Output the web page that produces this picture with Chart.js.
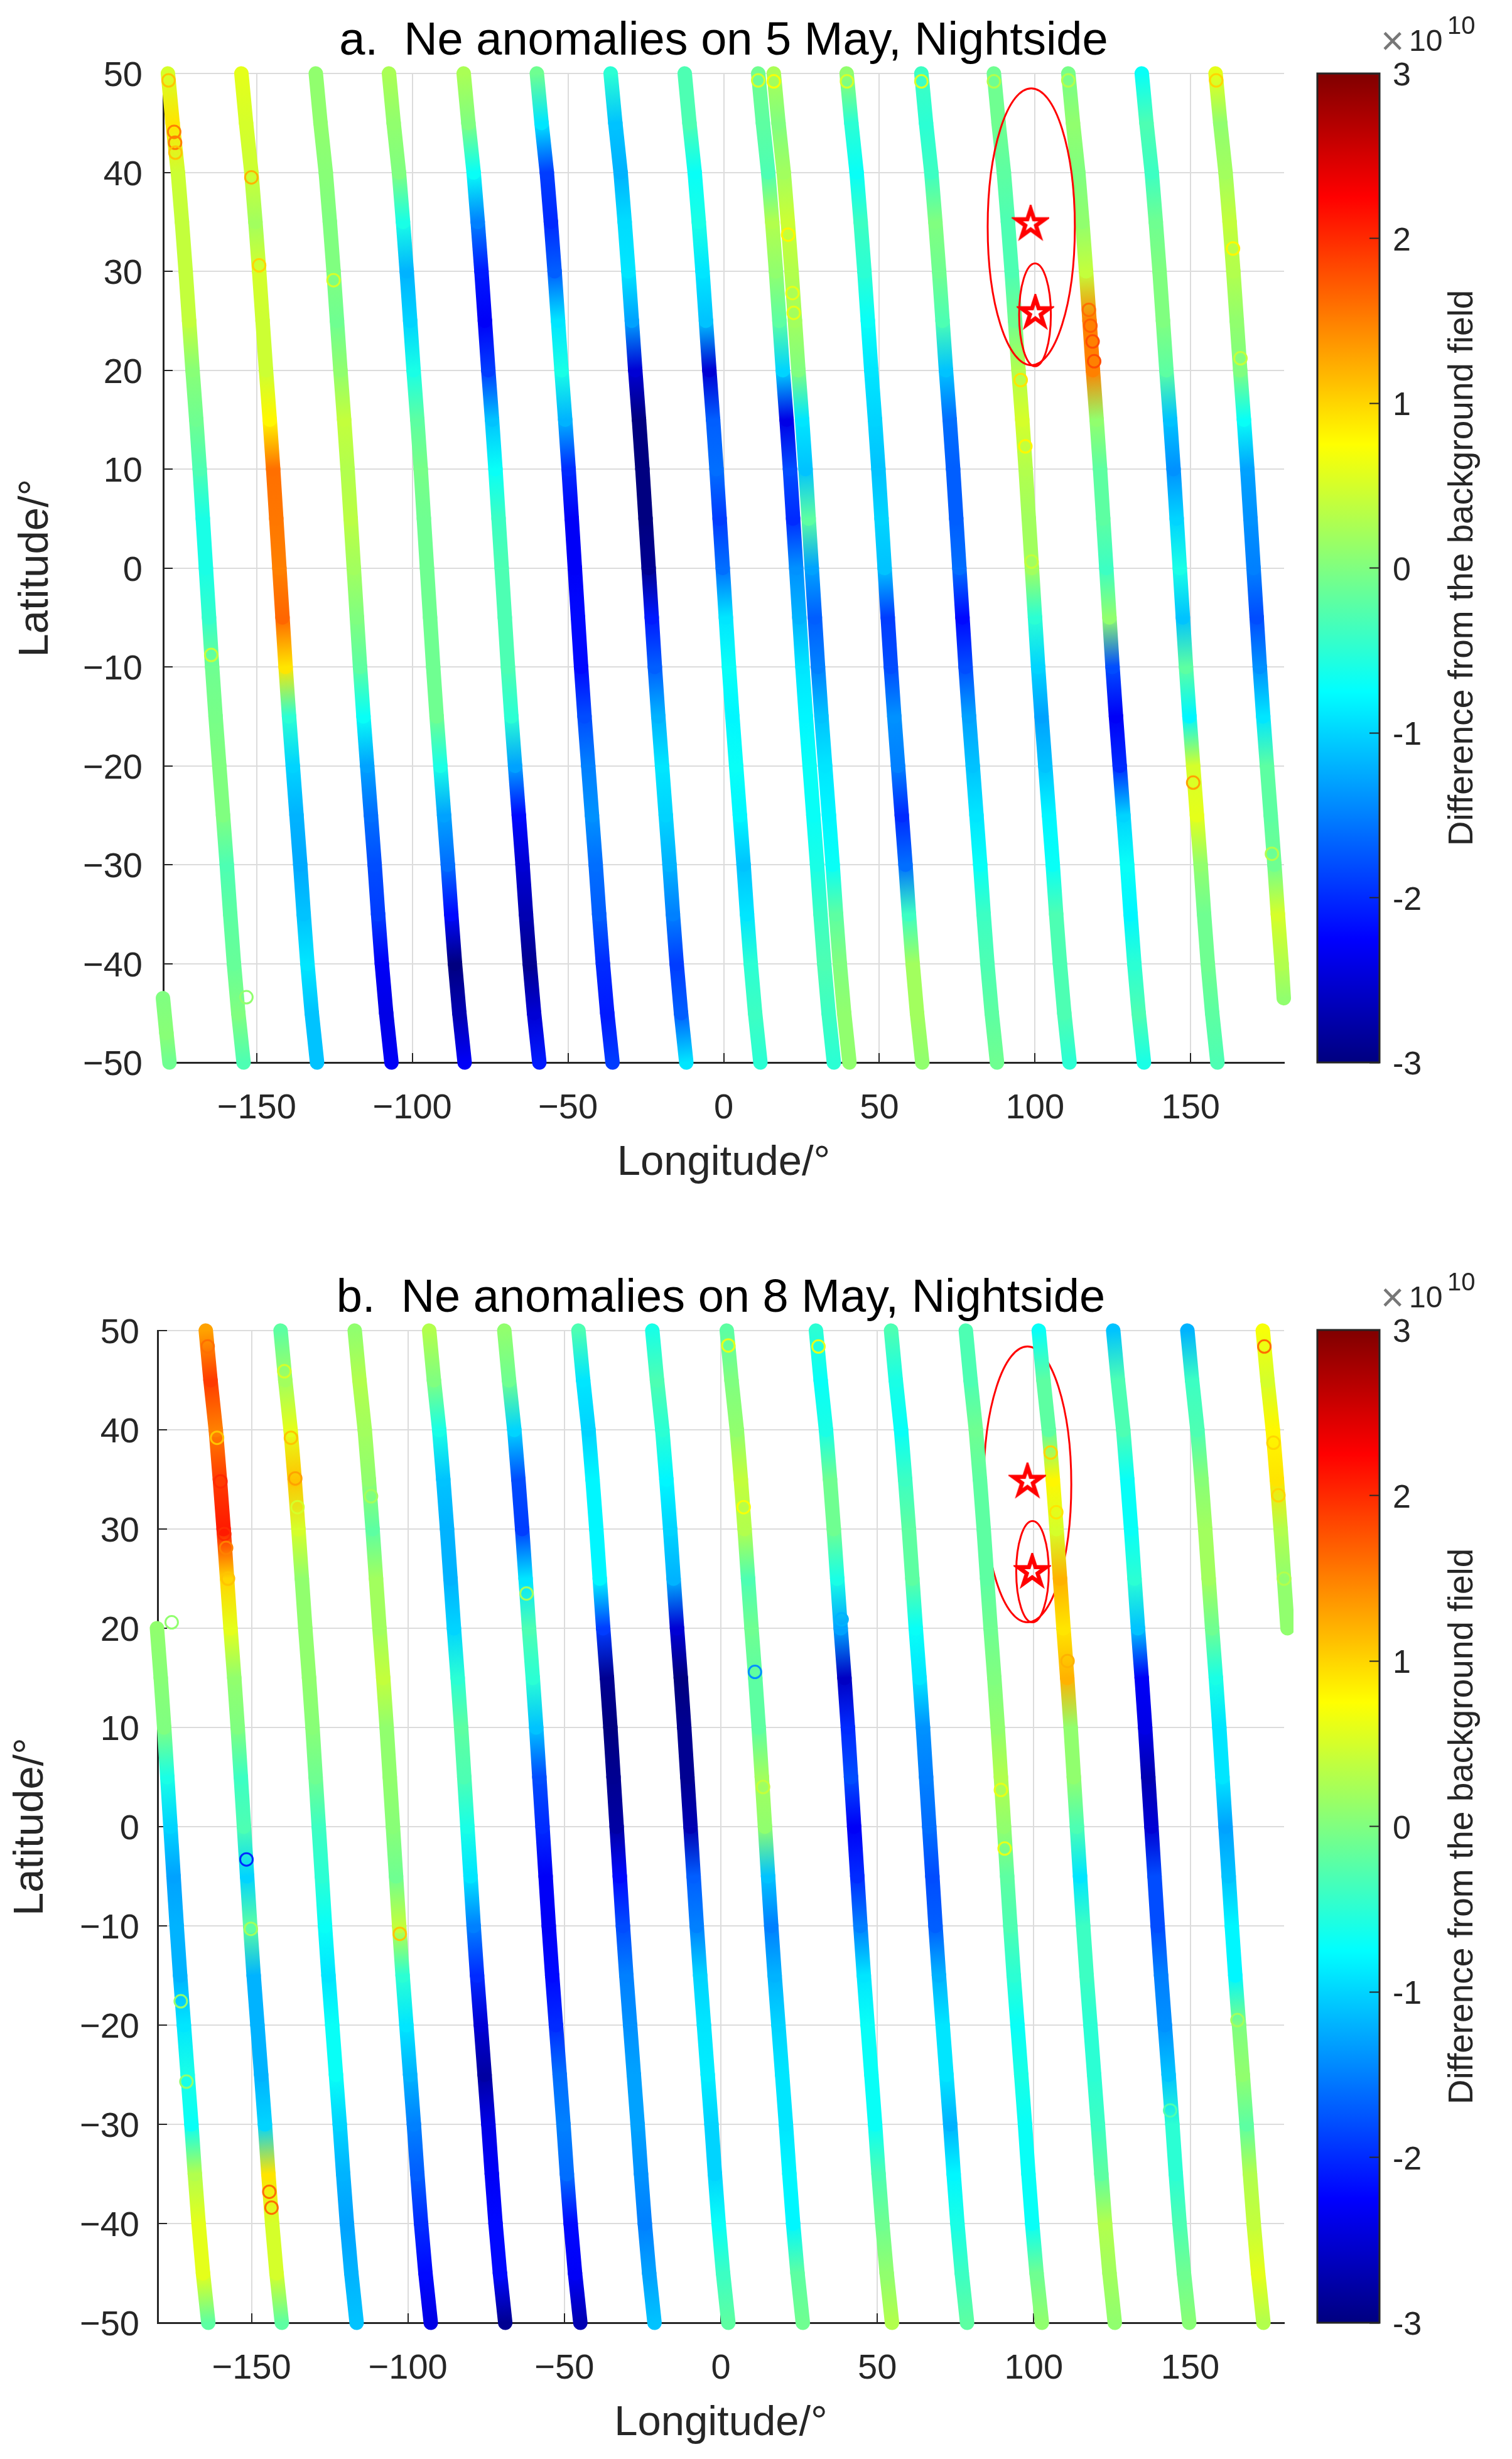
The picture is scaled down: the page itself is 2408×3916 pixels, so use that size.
<!DOCTYPE html>
<html>
<head>
<meta charset="utf-8">
<style>
html,body{margin:0;padding:0;background:#fff;width:2408px;height:3916px;overflow:hidden}
canvas{position:absolute;display:block;filter:blur(0.6px)}
</style>
<script src="https://cdn.jsdelivr.net/npm/chart.js@4/dist/chart.umd.min.js"></script>
</head>
<body>
<canvas id="pa" width="2060" height="2000" style="left:0;top:0"></canvas>
<canvas id="ca" width="348" height="2000" style="left:2060px;top:0"></canvas>
<canvas id="pb" width="2060" height="1916" style="left:0;top:2000px"></canvas>
<canvas id="cb" width="348" height="1916" style="left:2060px;top:2000px"></canvas>
<script>
// ---------- axes ----------
const xTicks = [-150,-100,-50,0,50,100,150];
const yTicks = [-50,-40,-30,-20,-10,0,10,20,30,40,50];
const cbTicks = [-3,-2,-1,0,1,2,3];
const titleA = 'a.  Ne anomalies on 5 May, Nightside';
const titleB = 'b.  Ne anomalies on 8 May, Nightside';
const xLabel = 'Longitude/°';
const yLabel = 'Latitude/°';
const cbLabel = 'Difference from the background field';

// ---------- shared orbit shape read from the tracks ----------
const lats   = [50,45,40,35,30,25,20,15,10,5,0,-5,-10,-15,-20,-25,-30,-35,-40,-45,-50];
const lonOff = [0,1.5,3.2,4.5,5.7,6.8,7.9,9.1,10.2,11.2,12.2,13.2,14.2,15.3,16.5,17.7,18.9,20,21.2,22.6,24.3];

// ---------- panel a: start longitude at 50N, and values (x 1e10) at each latitude ----------
const aStarts = [-178.5,-154.9,-131,-107.5,-83.5,-60,-36.3,-12.5,11.1,16.1,39.5,63.5,86.8,110.7,134.3,158];
const a01 = [.5,.9,.45,.4,.4,.4,.05,-.1,-.3,-.6,-.6,-.45,-.1,-.05,0,0,-.3,-.2,-.15,0,-.3];
const a02 = [.6,.5,.45,.2,.5,.45,.45,.8,1.6,1.55,1.5,1.65,.9,-.5,-1,-1.2,-1.25,-1.1,-.9,-1.1,-1.1];
const a03 = [.1,.1,.05,0,0,-.1,.1,.4,.3,.35,.2,0,-.2,-.7,-1.3,-1.6,-1.8,-1.9,-2.3,-2.4,-2.3];
const a04 = [.25,.1,0,-.6,-1.2,-1,-.6,-.2,-.05,-.1,-.1,-.1,-.1,-.1,-.6,-1.3,-1.6,-2.2,-3,-2.7,-2.3];
const a05 = [.25,0,-.7,-1.5,-2.1,-2.3,-1.9,-1.1,-.7,-.4,-.3,-.3,-.3,-.5,-1.3,-2.2,-2.5,-2.7,-2.9,-2.5,-2.1];
const a06 = [-.1,-.9,-1.9,-2,-1.7,-.9,-.6,-1.2,-2,-2.3,-2.3,-2.2,-2.2,-1.8,-1.5,-1.4,-1.6,-1.7,-2,-2.1,-1.9];
const a07 = [-.5,-1.1,-1.2,-.95,-.9,-1.3,-2.5,-3,-3,-3,-2.9,-2.1,-1.7,-1.2,-.9,-1,-1.2,-1.5,-1.9,-1.7,-.9];
const a08 = [-.3,-.3,-.7,-.6,-.9,-1.1,-2.5,-1.7,-1.6,-1.9,-1.6,-.9,-.7,-.8,-.7,-.8,-1.1,-.9,-.5,-.4,-.5];
const a09 = [-.1,-.2,-.3,.3,.1,-.2,-1,-2.4,-1.8,-2,-1.4,-1.2,-.9,-.8,-.7,-.7,-.6,-.4,-.3,-.4,-.5];
const a10 = [.25,0,.2,.45,.3,.2,0,-.9,-1.1,-.2,-1.3,-1.7,-1.5,-1.1,-.9,-.8,-.7,-.2,0,.1,.1];
const a11 = [.1,-.5,-.7,-.4,-.5,-.7,-.9,-1,-1.1,-1,-1.1,-1.9,-1.8,-1.4,-1.5,-2,-1.6,-.4,.2,.2,.1];
const a12 = [-.4,-.5,-.4,0,-.1,-.3,-1.1,-1.6,-1.7,-1.7,-1.6,-2.2,-1.8,-1.3,-1.1,-.9,-.7,-.4,-.3,-.2,-.1];
const a13 = [-.1,-.1,-.2,-.3,-.3,-.1,.3,.5,.3,.2,.2,-.5,-1,-1.3,-1.1,-.8,-.7,-.3,-.3,-.3,-.5];
const a14 = [-.05,.1,0,.1,.4,1.5,1.5,.1,-.2,-.2,-.4,.1,-1.8,-2.3,-2,-1,-.7,-.8,-.5,-.3,-.6];
const a15 = [-.7,-.3,-.4,-.1,0,0,-.2,-1.1,-1.4,-1,-.6,-1.1,-.2,-.8,.5,.6,.1,-.1,-.1,-.2,-.3];
const a16 = [.6,.1,.2,.4,.3,.1,0,-.7,-1.3,-1.4,-1.5,-1.8,-1.4,-.9,-.2,-.2,-.1,.5,.3];
const aTail = [179.9,-43.5,.1];
const aWrap = [[-180.1,-43.5,0],[-179,-47,.05],[-178,-50,-.1]];
const aRings = [[-178.3,49.3,1.1],[-176.5,44.1,1.5],[-176.2,43,1.5],[-176.1,42,1.1],[-151.7,39.5,1.2],[-149.2,30.6,1],[-125.3,29.1,.5],[-164.6,-8.8,.4],[-153.3,-43.4,.1],[16.1,49.2,.7],[11.1,49.3,.5],[39.6,49.2,.5],[63.5,49.2,.5],[86.8,49.2,.3],[110.7,49.3,.3],[158.2,49.3,1],[20.7,33.7,.8],[22.1,27.8,.6],[22.5,25.8,.6],[117.3,26.1,1.6],[117.8,24.5,1.7],[118.5,22.9,1.8],[119,20.9,1.8],[95.4,19,.9],[96.9,12.3,.8],[98.9,.65,.4],[150.8,-21.7,1.3],[163.6,32.3,.8],[166,21.2,.4],[176.1,-28.9,.3]];
const aStars = [[98.6,34.8],[100.1,25.8]];
const aEllipses = [[98.8,34.5,14,14],[100,25.6,5.1,5.2]];

// ---------- panel b ----------
const bStarts = [-164.6,-140.7,-117,-93.2,-69.2,-45.5,-21.9,1.9,30.4,54.4,78.3,101.6,125.4,149.1,173.2];
const b01 = [1.3,1.9,1.5,1.9,2.1,1,.6,.1,0,-.4,-.3,-1,-.2,-1.2,-1.2,-1.2,-1,.9,.5,.5,-.2];
const b02 = [-.2,.2,.6,1.1,.5,.1,.1,.1,.05,-.1,-.4,-.5,-.7,-.9,-.7,-.7,-1,-1.2,-1.3,-1.2,-1.1];
const b03 = [.1,.3,.2,.1,-.2,.2,.2,.4,.1,.1,.05,-.1,.4,-.5,-.9,-1.2,-1.5,-1.7,-2,-2.2,-2.4];
const b04 = [.3,0,-.6,-1.1,-1.2,-1.2,-1,-.5,-.2,-.3,-.6,-.9,-1.5,-2,-2.5,-2.8,-2.4,-2.3,-2.2,-2.2,-2.9];
const b05 = [.1,-.1,-1,-1.8,-1.9,-.9,-.3,-.5,-1.1,-1.8,-2,-2.3,-2.3,-2.2,-2,-1.6,-1.5,-1.6,-2.2,-2.3,-2.7];
const b06 = [-.3,-.9,-1,-.8,-.8,-.8,-1.9,-2.9,-3,-2.9,-2.8,-2.2,-1.8,-1.5,-1.4,-1.3,-1.3,-1.4,-1.5,-1.3,-1.1];
const b07 = [-.6,-.3,-.5,-.8,-1,-1.2,-2.5,-3,-2.9,-2.9,-2.7,-1.7,-1.5,-1,-.9,-.85,-1,-1,-.7,-.4,-.2];
const b08 = [-.2,0,.1,.4,.3,-.3,-.1,-.2,-.2,.2,.1,-1.1,-1.5,-1.2,-1,-.9,-.9,-.8,-.8,-.2,-.1];
const b09 = [-.5,-.7,-.6,-.1,-.1,-.6,-1.3,-2.6,-2,-1.8,-2.3,-2,-1.5,-.9,-.7,-.7,-.7,-.3,-.1,.1,.3];
const b10 = [-.3,-.6,-.7,-.4,-.2,-.2,-.7,-.9,-1.4,-1.5,-1.6,-1.8,-1.7,-1.2,-.9,-.9,-1.2,-.8,-.6,-.4,-.2];
const b11 = [-.3,-.3,-.1,-.2,-.2,-.2,-.1,0,.1,.3,.1,-.2,-.3,-.5,-.7,-.6,-.7,-.7,-.7,-.1,.1];
const b12 = [-.7,-.2,-.2,.8,.5,1.2,.9,1.2,.1,.1,-.3,-.9,-.4,-.4,-.5,-.5,-.4,-.2,.3,.2,.1];
const b13 = [-1.1,-.3,-.3,-.7,-.7,-.5,-1.1,-2.3,-2.4,-2.7,-2.5,-1.8,-1.8,-1.5,-1.4,-1.1,-.5,-.5,-.3,-.1,.05];
const b14 = [-1.2,-.4,-.3,.05,.2,.2,-.1,-.6,-.9,-.9,-1.3,-1.1,-.8,-.8,0,.1,-.2,.3,.4,.6,.3];
const b15 = [.7,.5,.8,.9,.3,.1,.1];
const bWrapStart = -188.1;
const bWrap = [.1,.05,0,-.6,-1,-1.3,-1.2,-1.2,-.9,-.6,-.7,.3,.6,.6,-.2];
const bRings = [[-164,48.4,1.6],[-161,39.2,1.1],[-159.9,34.8,2],[-158.7,29.5,2],[-158.1,28.1,1.5],[-157.5,25,1.1],[-175.5,20.6,.1],[-139.5,45.9,.5],[-137.4,39.2,1.1],[-136,35.1,1.3],[-135.3,32.2,.5],[-111.8,33.3,.2],[-62.1,23.5,.2],[-151.6,-3.3,-2],[-150.2,-10.3,.2],[-102.6,-10.8,1.1],[-172.6,-17.6,.1],[-170.8,-25.7,.1],[-144.3,-36.8,1.6],[-143.6,-38.4,1.6],[2.4,48.5,.6],[31.2,48.4,.6],[7.3,32.2,.7],[38.6,20.9,-1.2],[10.9,15.6,-1.4],[13.5,4,.4],[89.5,3.7,.6],[90.7,-2.2,.6],[105.4,37.7,1],[107.2,31.7,.9],[110.8,16.7,1.2],[173.7,48.4,1.6],[176.6,38.7,1],[178.2,33.4,1],[180,25,.3],[165.1,-19.5,.2],[143.6,-28.6,-.3]];
const bStars = [[98,34.8],[99.5,25.7]];
const bEllipses = [[98,34.5,14,13.9],[99.6,25.7,5.2,5.1]];

// ---------- colours ----------
const cmapMin = -3, cmapMax = 3;
function jet(v){
  const t = (v-cmapMin)/(cmapMax-cmapMin);
  const c = x => Math.round(255*Math.max(0,Math.min(1,x)));
  return `rgb(${c(Math.min(4*t-1.5,-4*t+4.5))},${c(Math.min(4*t-.5,-4*t+3.5))},${c(Math.min(4*t+.5,-4*t+2.5))})`;
}
const FONT = '"Liberation Sans", Arial, sans-serif';
const INK = '#262626';

function starImage(){
  const R = 23.5, s = 60, cv = document.createElement('canvas');
  cv.width = cv.height = s;
  const g = cv.getContext('2d');
  g.strokeStyle = '#ff0000'; g.lineWidth = 6.5; g.lineJoin = 'miter';
  g.beginPath();
  for(let i=0;i<10;i++){
    const r = i%2 ? R*0.382 : R, a = -Math.PI/2 + i*Math.PI/5;
    const px = s/2 + r*Math.cos(a), py = s/2 + r*Math.sin(a);
    i ? g.lineTo(px,py) : g.moveTo(px,py);
  }
  g.closePath(); g.stroke();
  return cv;
}
const STAR = starImage();

function trackDataset(points){
  // listed south to north so the library keeps the points that run past the axis limit
  const pts = points.slice().reverse();
  const vals = pts.map(p=>p[2]);
  return {
    data: pts.map(p=>({x:p[0],y:p[1]})),
    showLine:true, pointRadius:0, borderWidth:23, borderCapStyle:'round', borderJoinStyle:'round',
    borderColor:jet(vals[0]), clip:false, order:5, tension:0,
    segment:{
      borderColor: c=>{
        const g = c.chart.ctx.createLinearGradient(c.p0.x,c.p0.y,c.p1.x,c.p1.y);
        g.addColorStop(0,jet(vals[c.p0DataIndex]));
        g.addColorStop(1,jet(vals[c.p1DataIndex]));
        return g;
      },
      borderDashOffset: c=>c.p0DataIndex   // forces one styled piece per segment
    }
  };
}
function orbit(start, vals, first){
  first = first||0;
  return vals.map((v,i)=>[start+lonOff[first+i], lats[first+i], v]);
}

function panel(id, o){
  const datasets = [];
  datasets.push({
    data:o.stars.map(s=>({x:s[0],y:s[1]})), showLine:false, pointStyle:STAR, pointRadius:25,
    clip:false, order:0
  });
  datasets.push({
    data:o.rings.map(r=>({x:r[0],y:r[1]})), showLine:false, pointRadius:10, pointBorderWidth:3,
    pointBackgroundColor:'rgba(0,0,0,0)', pointBorderColor:o.rings.map(r=>jet(r[2])), clip:false, order:1
  });
  o.tracks.forEach(t=>datasets.push(trackDataset(t)));
  const ellipses = {
    id:'ellipses',
    [o.ellipseOver ? 'afterDatasetsDraw' : 'beforeDatasetsDraw'](chart){
      const {ctx,scales:{x,y}} = chart;
      ctx.save(); ctx.strokeStyle='#ff0000'; ctx.lineWidth=3;
      o.ellipses.forEach(e=>{
        const cx=x.getPixelForValue(e[0]), cy=y.getPixelForValue(e[1]);
        const rx=Math.abs(x.getPixelForValue(e[0]+e[2])-cx), ry=Math.abs(y.getPixelForValue(e[1]+e[3])-cy);
        ctx.beginPath(); ctx.ellipse(cx,cy,rx,ry,0,0,Math.PI*2); ctx.stroke();
      });
      ctx.restore();
    }
  };
  return new Chart(document.getElementById(id),{
    type:'scatter',
    data:{datasets},
    plugins:[ellipses],
    options:{
      responsive:false, animation:false, events:[], devicePixelRatio:1,
      layout:{autoPadding:false,padding:{left:0,top:0,right:2060-o.right,bottom:o.padBottom}},
      plugins:{
        legend:{display:false}, tooltip:{enabled:false},
        title:{display:true,text:o.title,color:'#000',fullSize:false,
          font:{family:FONT,size:74,weight:'normal',lineHeight:1.2},
          padding:{top:o.titleTop,bottom:o.top-o.titleTop-88.8}}
      },
      scales:{
        x:{type:'linear',min:-180,max:180,
          afterFit:s=>{s.height=o.xHeight;},
          afterBuildTicks:s=>{s.ticks=xTicks.map(v=>({value:v}));},
          grid:{color:'#dcdcdc',lineWidth:2,tickColor:INK,tickWidth:2,tickLength:-15},
          border:{color:INK,width:3},
          ticks:{color:INK,autoSkip:false,maxRotation:0,padding:55,
            font:{family:FONT,size:56,lineHeight:1.2},
            callback:v=>String(v).replace('-','\u2212')},
          title:{display:true,text:xLabel,color:INK,padding:0,font:{family:FONT,size:67,lineHeight:1.2}}
        },
        y:{type:'linear',min:-50,max:50,
          afterFit:s=>{s.width=o.left;},
          afterBuildTicks:s=>{s.ticks=yTicks.map(v=>({value:v}));},
          grid:{color:'#dcdcdc',lineWidth:2,tickColor:INK,tickWidth:2,tickLength:-15},
          border:{color:INK,width:3},
          ticks:{color:INK,autoSkip:false,padding:o.yTickPad,labelOffset:5,
            font:{family:FONT,size:56,lineHeight:1.2},
            callback:v=>String(v).replace('-','\u2212')},
          title:{display:true,text:yLabel,color:INK,padding:{top:o.yTitlePad,bottom:0},font:{family:FONT,size:67,lineHeight:1.2}}
        }
      }
    }
  });
}

function colorbar(id, padTop, padBottom){
  const deco = {
    id:'deco',
    afterDatasetsDraw(chart){
      const {ctx,chartArea:a} = chart;
      ctx.save();
      ctx.strokeStyle=INK; ctx.lineWidth=3;
      ctx.strokeRect(a.left,a.top,a.right-a.left,a.bottom-a.top);
      ctx.textAlign='left'; ctx.textBaseline='alphabetic';
      ctx.fillStyle='#777'; ctx.font=`64px ${FONT}`;
      ctx.fillText('\u00d7',a.right+2,a.top-30);
      ctx.fillStyle=INK; ctx.font=`48px ${FONT}`;
      ctx.fillText('10',a.right+47,a.top-36);
      ctx.font=`40px ${FONT}`;
      ctx.fillText('10',a.right+108,a.top-63);
      ctx.translate(a.right+133,(a.top+a.bottom)/2);
      ctx.rotate(-Math.PI/2);
      ctx.textAlign='center'; ctx.textBaseline='middle';
      ctx.font=`55px ${FONT}`;
      ctx.fillText(cbLabel,0,0);
      ctx.restore();
    }
  };
  return new Chart(document.getElementById(id),{
    type:'bar',
    data:{labels:['cb'],datasets:[{
      data:[[cmapMin,cmapMax]],
      barPercentage:1,categoryPercentage:1,borderWidth:0,
      backgroundColor:c=>{
        const a=c.chart.chartArea; if(!a) return '#000';
        const g=c.chart.ctx.createLinearGradient(0,a.bottom,0,a.top);
        for(let i=0;i<=48;i++){const v=cmapMin+(cmapMax-cmapMin)*i/48; g.addColorStop(i/48,jet(v));}
        return g;
      }
    }]},
    plugins:[deco],
    options:{
      responsive:false,animation:false,events:[],devicePixelRatio:1,
      layout:{autoPadding:false,padding:{left:38,top:padTop,right:0,bottom:padBottom}},
      plugins:{legend:{display:false},tooltip:{enabled:false},title:{display:false}},
      scales:{
        x:{display:false},
        y:{position:'right',min:cmapMin,max:cmapMax,
          afterFit:s=>{s.width=211;},
          afterBuildTicks:s=>{s.ticks=cbTicks.map(v=>({value:v}));},
          grid:{drawOnChartArea:false,tickColor:INK,tickWidth:2,tickLength:-16,z:1},
          border:{display:false},
          ticks:{color:INK,autoSkip:false,padding:37,labelOffset:5,font:{family:FONT,size:52,lineHeight:1.2}}
        }
      }
    }
  });
}

panel('pa',{
  title:titleA, top:117, titleTop:22, left:260, right:2045, padBottom:107, xHeight:201, yTickPad:48, yTitlePad:17,
  stars:aStars, rings:aRings, ellipses:aEllipses, ellipseOver:true,
  tracks:[a01,a02,a03,a04,a05,a06,a07,a08,a09,a10,a11,a12,a13,a14,a15].map((v,i)=>orbit(aStarts[i],v))
    .concat([orbit(aStarts[15],a16).concat([aTail]), aWrap])
});
panel('pb',{
  title:titleB, top:119, titleTop:24, left:251, right:2045, padBottom:16, xHeight:201, yTickPad:44, yTitlePad:9,
  stars:bStars, rings:bRings, ellipses:bEllipses, ellipseOver:false,
  tracks:[b01,b02,b03,b04,b05,b06,b07,b08,b09,b10,b11,b12,b13,b14,b15].map((v,i)=>orbit(bStarts[i],v))
    .concat([orbit(bWrapStart,bWrap,6)])
});
colorbar('ca',117,308);
colorbar('cb',118,217);
</script>
</body>
</html>
